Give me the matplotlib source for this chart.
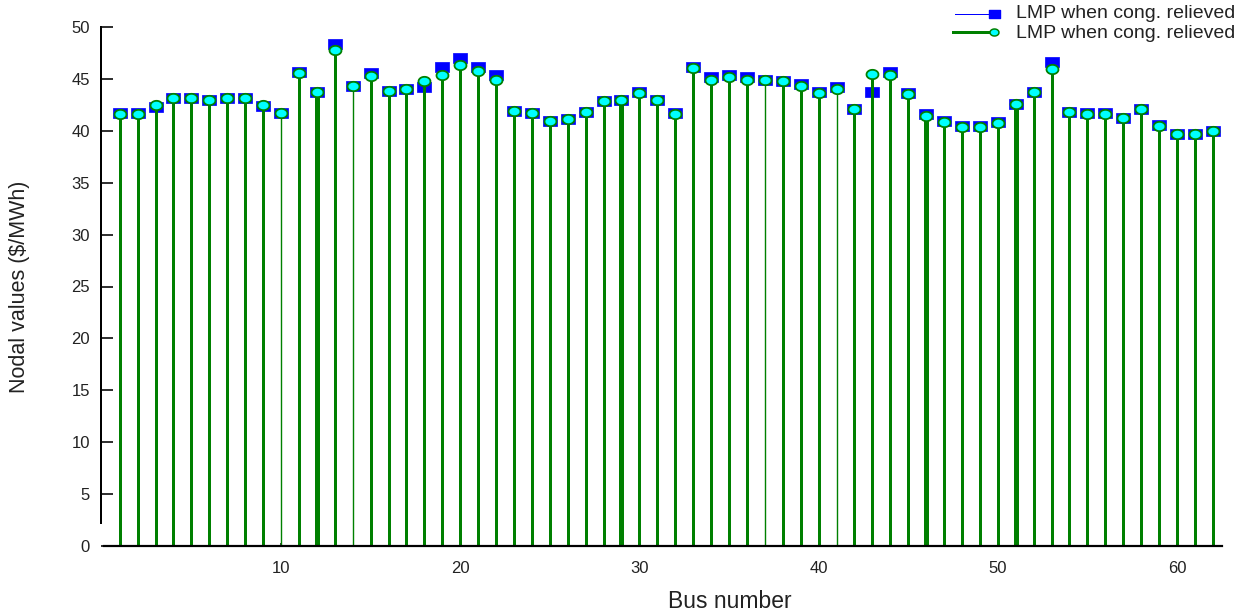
import numpy as np
import matplotlib
matplotlib.use("Agg")
import matplotlib.pyplot as plt
from matplotlib.path import Path
from matplotlib.lines import Line2D

plt.rcParams['font.family'] = ['Liberation Sans', 'DejaVu Sans']

# ---------------- data ----------------
buses = list(range(1, 63))
lmp_blue = [41.7, 41.7, 42.3, 43.2, 43.2, 43.0, 43.2, 43.2, 42.4, 41.7,
            45.7, 43.7, 48.35, 44.3, 45.55, 43.8, 44.0, 44.2, 46.1, 47.05,
            46.15, 45.35, 41.9, 41.7, 40.9, 41.1, 41.8, 42.85, 43.0, 43.75,
            43.0, 41.7, 46.15, 45.2, 45.35, 45.2, 44.9, 44.8, 44.5, 43.75,
            44.2, 42.1, 43.75, 45.65, 43.6, 41.6, 40.9, 40.5, 40.5, 40.8,
            42.6, 43.75, 46.6, 41.8, 41.7, 41.7, 41.2, 42.1, 40.6, 39.7,
            39.7, 40.0]
lmp_green = [41.65, 41.65, 42.45, 43.15, 43.15, 43.0, 43.2, 43.15, 42.45, 41.7,
             45.6, 43.7, 47.8, 44.3, 45.3, 43.8, 44.05, 44.8, 45.4, 46.35,
             45.8, 44.9, 41.9, 41.7, 40.9, 41.1, 41.8, 42.85, 42.95, 43.65,
             43.0, 41.6, 46.05, 44.9, 45.2, 44.9, 44.9, 44.8, 44.35, 43.6,
             44.05, 42.1, 45.5, 45.35, 43.55, 41.45, 40.85, 40.4, 40.4, 40.75,
             42.55, 43.7, 45.95, 41.8, 41.65, 41.65, 41.2, 42.1, 40.5, 39.65,
             39.65, 40.0]
series_labels = ["LMP when cong. relieved", "LMP when cong. relieved"]
y_ticks = list(range(0, 51, 5))
x_ticks = [10, 20, 30, 40, 50, 60]

# ---------------- style ----------------
W, H = 1244, 615
fig = plt.figure(figsize=(W / 100, H / 100), dpi=100)
ax_left, ax_right, ax_bottom, ax_top = 101, 1222, 546, 27
ax = fig.add_axes([ax_left / W, (H - ax_bottom) / H,
                   (ax_right - ax_left) / W, (ax_bottom - ax_top) / H])

px = 72 / 100.0  # points per pixel

rect_marker = Path([(-1, -0.72), (1, -0.72), (1, 0.72), (-1, 0.72), (-1, -0.72)],
                   [Path.MOVETO, Path.LINETO, Path.LINETO, Path.LINETO, Path.CLOSEPOLY])
t = np.linspace(0, 2 * np.pi, 40)
ell_marker = Path(np.column_stack([np.cos(t), 0.78 * np.sin(t)]))

BLUE = '#0000ff'
GREEN = '#008000'
CYAN = '#00ffff'

# thin / thick stem overrides (rendering appearance in reference)
stem_width_px = {10: 1.4, 14: 1.4, 37: 1.4, 41: 1.4, 12: 5.0, 29: 5.0, 46: 5.0, 51: 5.0}
green_lw = [stem_width_px.get(b, 3.0) * px for b in buses]

# blue stems + markers
ax.vlines(buses, 0, lmp_blue, colors=BLUE, linewidth=1.0 * px, zorder=2)
ax.plot(buses, lmp_blue, linestyle='none', marker=rect_marker, markersize=14 * px,
        markerfacecolor=BLUE, markeredgecolor=BLUE, markeredgewidth=0.5, zorder=3)
# green stems + markers
ax.vlines(buses, 0, lmp_green, colors=GREEN, linewidth=green_lw, zorder=4)
ax.plot(buses, lmp_green, linestyle='none', marker=ell_marker, markersize=12 * px,
        markerfacecolor=CYAN, markeredgecolor=GREEN, markeredgewidth=1.8 * px, zorder=5)

ax.set_xlim(-0.045, 62.51)
ax.set_ylim(0, 50)

for s in ['top', 'right']:
    ax.spines[s].set_visible(False)
ax.spines['left'].set_linewidth(2 * px)
ax.spines['bottom'].set_linewidth(2.2 * px)
ax.spines['left'].set_bounds(2.2, 50)
ax.spines['bottom'].set_bounds(0.12, 62.51)
ax.spines['bottom'].set_zorder(6)

ax.set_yticks(y_ticks)
ax.set_xticks(x_ticks)
ax.tick_params(axis='y', direction='in', length=12 * px, width=1.6 * px,
               labelsize=12, pad=8, labelcolor='#222222')
ax.tick_params(axis='x', direction='in', length=3 * px, width=1.5 * px,
               labelsize=12, pad=11, labelcolor='#222222')

ax.set_xlabel('Bus number', fontsize=16.5, color='#222222')
ax.set_ylabel('Nodal values ($/MWh)', fontsize=15.5, color='#222222')
ax.xaxis.set_label_coords((730 - ax_left) / (ax_right - ax_left), -(602 - ax_bottom) / (ax_bottom - ax_top), transform=ax.transAxes)
ax.xaxis.label.set_va('center')
ax.yaxis.set_label_coords(-(ax_left - 20) / (ax_right - ax_left), 0.5, transform=ax.transAxes)
ax.yaxis.label.set_va('center')

# legend (line with marker at its right end, like the original)
def fx(x):
    return x / W

def fy(y):
    return 1 - y / H

fig.add_artist(Line2D([fx(955), fx(990)], [fy(14), fy(14)], color=BLUE,
                      linewidth=1.0 * px, transform=fig.transFigure))
fig.add_artist(Line2D([fx(994)], [fy(14)], linestyle='none', marker=rect_marker,
                      markersize=11 * px, markerfacecolor=BLUE, markeredgecolor=BLUE,
                      transform=fig.transFigure))
fig.add_artist(Line2D([fx(953), fx(990)], [fy(32), fy(32)], color=GREEN,
                      linewidth=3.0 * px, transform=fig.transFigure))
fig.add_artist(Line2D([fx(994)], [fy(32)], linestyle='none', marker=ell_marker,
                      markersize=9 * px, markerfacecolor=CYAN, markeredgecolor=GREEN,
                      markeredgewidth=1.5 * px, transform=fig.transFigure))
fig.text(fx(1016), fy(14), series_labels[0], fontsize=14, va='center', ha='left', color='#222222')
fig.text(fx(1016), fy(33), series_labels[1], fontsize=14, va='center', ha='left', color='#222222')

fig.savefig('out.png', dpi=100)
